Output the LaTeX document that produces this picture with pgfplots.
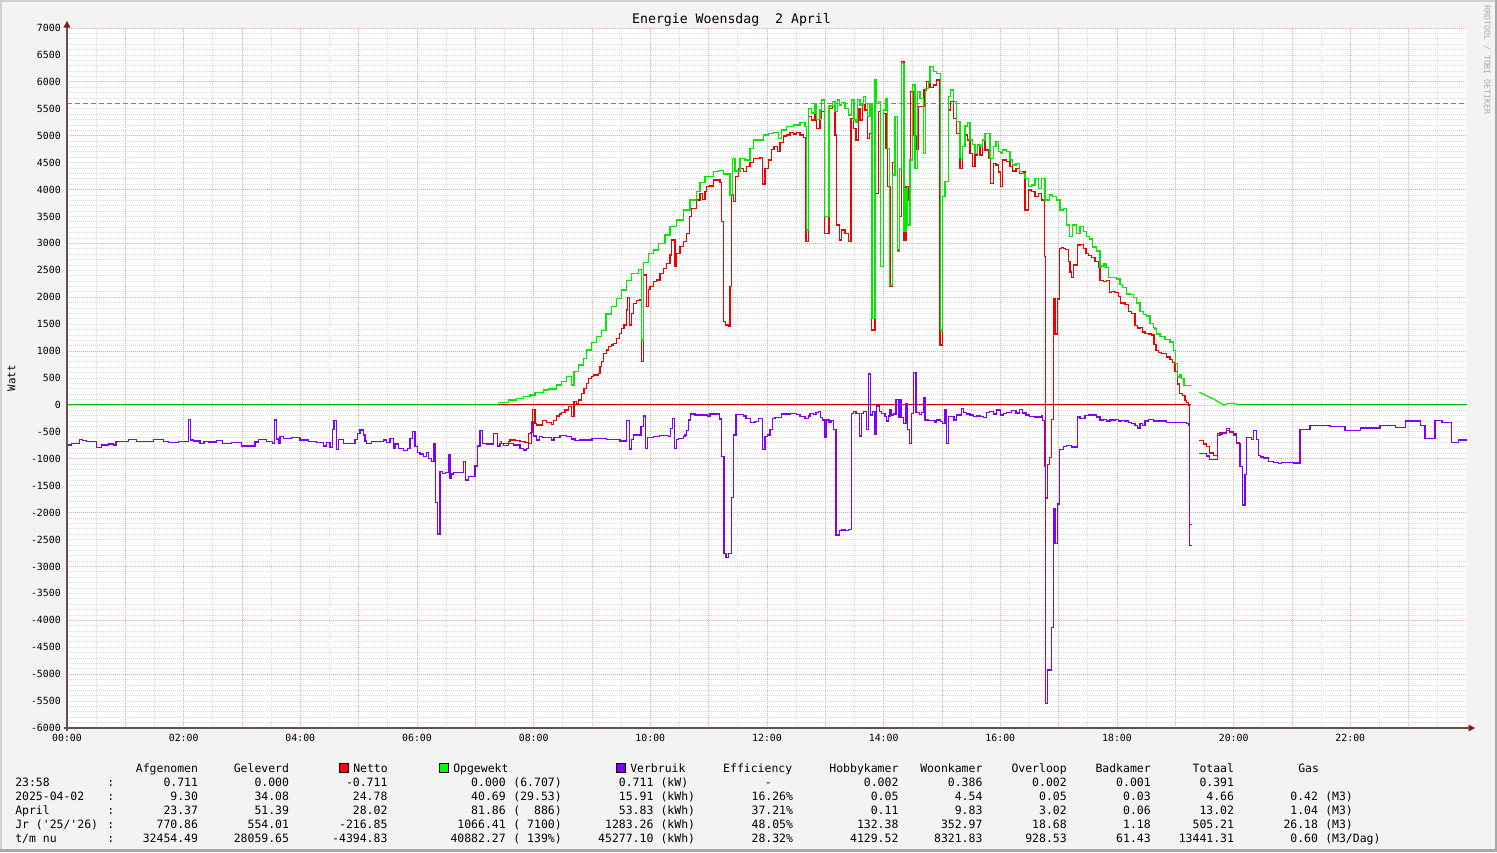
\documentclass[border=0pt]{standalone}
\usepackage{fontspec}
\setmainfont{DejaVu Sans Mono}
\usepackage{pgfplots}
\pgfplotsset{compat=1.18}
\usetikzlibrary{arrows.meta}

\definecolor{canvas}{RGB}{243,243,243}
\definecolor{bordlight}{RGB}{208,208,208}
\definecolor{borddark}{RGB}{168,168,168}
\definecolor{gridminor}{RGB}{218,218,218}
\definecolor{gridmajor}{RGB}{242,165,165}
\definecolor{axiscol}{RGB}{100,80,80}
\definecolor{arrowcol}{RGB}{140,20,20}
\definecolor{rrdred}{RGB}{240,0,0}
\definecolor{rrdgreen}{RGB}{0,235,0}
\definecolor{rrdpurple}{RGB}{128,0,255}
\definecolor{wmcol}{RGB}{170,170,170}

\newcommand\fs[1]{\fontsize{#1bp}{#1bp}\selectfont}

% one legend row, left half
\newcommand\rowA[7]{%
  \node[l] at (15,#1) {#2};
  \node[lg, anchor=base] at (110.7,#1) {:};
  \node[r] at (198.3,#1) {#3};
  \node[r] at (289.3,#1) {#4};
  \node[r] at (387.7,#1) {#5};
  \node[r] at (506,#1) {#6};
  \node[r] at (562,#1) {#7};}
% right half
\newcommand\rowB[9]{%
  \node[r] at (653.7,#1) {#2};
  \node[l] at (660.3,#1) {#3};
  \node[r] at (793.3,#1) {#4};
  \node[r] at (898.7,#1) {#5};
  \node[r] at (982.7,#1) {#6};
  \node[r] at (1067,#1) {#7};
  \node[r] at (1151,#1) {#8};
  \node[r] at (1234.3,#1) {#9};}
\newcommand\rowC[3]{%
  \node[r] at (1318.3,#1) {#2};
  \node[l] at (1325,#1) {#3};}

\begin{document}
\begin{tikzpicture}[x=0.75bp,y=-0.75bp,
  lg/.style={font=\fs{8.6}, inner sep=0pt},
  r/.style={lg, anchor=base east},
  l/.style={lg, anchor=base west}]
\path[use as bounding box] (0,0) rectangle (1497,852);
\fill[canvas] (0,0) rectangle (1497,852);
\fill[bordlight] (0,0) rectangle (1497,2);
\fill[bordlight] (0,0) rectangle (2,852);
\fill[borddark] (0,849) rectangle (1497,852);
\fill[borddark] (1495,0) rectangle (1497,852);

\begin{axis}[
  at={(50.25bp,-546bp)}, anchor=south west,
  scale only axis, width=1050bp, height=525bp,
  xmin=0, xmax=24, ymin=-6000, ymax=7000,
  axis background/.style={fill=white},
  axis line style={draw=none},
  tick style={draw=none},
  xtick={0,2,...,22},
  xticklabels={00:00,02:00,04:00,06:00,08:00,10:00,12:00,14:00,16:00,18:00,20:00,22:00},
  ytick={-6000,-5500,...,7000},
  yticklabels={-6000,-5500,-5000,-4500,-4000,-3500,-3000,-2500,-2000,-1500,-1000,-500,0,500,1000,1500,2000,2500,3000,3500,4000,4500,5000,5500,6000,6500,7000},
  xticklabel style={font=\fs{7.4}, anchor=center, inner sep=0pt, yshift=-7.5bp},
  yticklabel style={font=\fs{7.4}, anchor=east, inner sep=0pt, xshift=-4.5bp},
]
% grid
\pgfplotsinvokeforeach{-6000,-5900,...,7000}{
  \draw[gridminor, line width=0.6bp, dash pattern=on 0.75bp off 0.75bp] (axis cs:0,#1) -- (axis cs:24,#1);}
\pgfplotsinvokeforeach{0.5,1,...,23.5}{
  \draw[gridminor, line width=0.6bp, dash pattern=on 0.75bp off 0.75bp] (axis cs:#1,-6000) -- (axis cs:#1,7000);}
\pgfplotsinvokeforeach{-5000,-4000,...,7000}{
  \draw[gridmajor, line width=0.6bp, dash pattern=on 0.75bp off 0.75bp] (axis cs:0,#1) -- (axis cs:24,#1);}
\pgfplotsinvokeforeach{1,2,...,23}{
  \draw[gridmajor, line width=0.6bp, dash pattern=on 0.75bp off 0.75bp] (axis cs:#1,-6000) -- (axis cs:#1,7000);}
\draw[black!50, line width=0.75bp, dash pattern=on 3.5bp off 2.5bp] (axis cs:0,5600) -- (axis cs:24,5600);

% zero lines (no generation / Netto base)
\addplot[rrdgreen!80!black, line width=0.7bp] coordinates {(0,0) (7.395,0)};
\addplot[rrdgreen!80!black, line width=0.7bp] coordinates {(20.11,0) (24,0)};
\addplot[rrdred!85!black, line width=0.75bp] coordinates {(7.395,0) (19.264,0)};

% Netto
\addplot[rrdred, line width=0.95bp, const plot] coordinates {
(7.423,-681) (7.452,-712) (7.566,-681) (7.595,-650) (7.681,-662) (7.766,-681) (7.852,-700)
(7.909,-526) (7.949,-514) (7.983,-80) (8.023,-341) (8.052,-372) (8.155,-291) (8.223,-328)
(8.309,-359) (8.338,-291) (8.395,-204) (8.441,-167) (8.481,-142) (8.538,-93) (8.595,-31)
(8.652,-217) (8.692,62) (8.738,19) (8.766,93) (8.823,217) (8.863,300) (8.909,402) (8.938,495)
(8.995,526) (9.023,557) (9.109,588) (9.138,712) (9.166,805) (9.195,960) (9.252,1021)
(9.281,1083) (9.338,1114) (9.366,1145) (9.423,1238) (9.469,1331) (9.509,1424) (9.549,1486)
(9.595,1764) (9.606,2000) (9.64,1486) (9.681,1702) (9.709,1888) (9.766,1938) (9.823,1962)
(9.852,805) (9.88,2414) (9.938,1826) (9.966,2148) (9.995,2198) (10.052,2290) (10.109,2321)
(10.166,2445) (10.223,2538) (10.281,2631) (10.338,2786) (10.366,3064) (10.423,2569)
(10.452,2817) (10.509,2940) (10.566,3033) (10.623,3188) (10.669,3498) (10.709,3652)
(10.795,3807) (10.852,3931) (10.897,3819) (10.938,3962) (10.966,4055) (11.023,4067)
(11.08,4179) (11.195,4129) (11.223,3405) (11.252,1548) (11.292,1486) (11.338,1455)
(11.366,2198) (11.395,3900) (11.423,3776) (11.463,4240) (11.509,4395) (11.595,4333)
(11.652,4426) (11.709,4500) (11.766,4581) (11.881,4600) (11.926,4104) (11.966,4395)
(12.023,4550) (12.081,4748) (12.12,4797) (12.178,4705) (12.223,4872) (12.281,4996)
(12.338,5014) (12.395,5058) (12.452,5033) (12.509,5058) (12.566,5014) (12.623,4971)
(12.669,3033) (12.709,5355) (12.766,5293) (12.823,5448) (12.852,5138) (12.909,5324)
(12.938,5448) (12.983,3188) (13.063,5509) (13.126,5540) (13.166,5014) (13.195,3343)
(13.241,3064) (13.281,3250) (13.338,3188) (13.395,3033) (13.441,5324) (13.481,5138)
(13.526,4921) (13.566,5509) (13.595,5293) (13.641,5571) (13.681,5478) (13.721,4952)
(13.755,5045) (13.795,1393) (13.852,3931) (13.915,5448) (13.949,2569) (13.995,5417)
(14.041,4767) (14.063,4055) (14.109,2198) (14.155,4500) (14.195,5355) (14.235,2879)
(14.269,3500) (14.309,6376) (14.349,3064) (14.383,4055) (14.424,3807) (14.464,5819)
(14.510,5000) (14.555,4750) (14.595,5540) (14.692,5850) (14.738,6000) (14.795,5900)
(14.852,5943) (14.910,6035) (14.967,1114) (15.012,3869) (15.052,4148) (15.110,5478)
(15.150,5633) (15.195,5324) (15.253,5045) (15.310,4395) (15.355,4797) (15.395,5014)
(15.435,4921) (15.481,4674) (15.527,4426) (15.567,4640) (15.607,4829) (15.652,4640)
(15.698,4921) (15.738,4735) (15.795,4580) (15.835,4117) (15.881,4490) (15.927,4457)
(15.967,4324) (16.007,4055) (16.041,4550) (16.110,4520) (16.167,4426) (16.212,4345)
(16.270,4395) (16.327,4300) (16.384,4324) (16.424,3621) (16.481,3993) (16.538,3960)
(16.595,3869) (16.652,3930) (16.710,3807) (16.755,2754) (16.778,-1727) (16.807,-1111)
(16.841,-972) (16.881,-264) (16.910,1969) (16.938,1315) (16.978,1969) (17.012,2908)
(17.052,2920) (17.081,2908) (17.121,2890) (17.167,2661) (17.195,2470) (17.224,2370)
(17.252,2600) (17.321,2970) (17.366,2980) (17.424,2908) (17.469,2815) (17.509,2780)
(17.567,2740) (17.624,2661) (17.681,2546) (17.709,2315) (17.767,2290) (17.824,2315)
(17.869,2084) (17.910,2100) (17.967,2084) (18.024,2007) (18.064,1892) (18.138,1860)
(18.195,1738) (18.253,1700) (18.310,1469) (18.350,1430) (18.395,1440) (18.441,1354)
(18.481,1330) (18.538,1315) (18.595,1300) (18.635,1122) (18.669,1006) (18.710,975)
(18.767,960) (18.853,891) (18.910,840) (18.956,790) (18.996,622) (19.036,390) (19.070,214)
(19.127,180) (19.167,83) (19.196,50) (19.224,0) (19.241,-2227) (19.281,-2227)};
\addplot[rrdred, line width=0.95bp, const plot] coordinates {
(19.412,-664) (19.481,-726) (19.538,-778) (19.584,-895) (19.652,-941) (19.721,-533)
(19.767,-510) (19.812,-533) (19.881,-478) (19.927,-510) (19.995,-560) (20.052,-700) (20.110,-700)};

% Opgewekt
\addplot[rrdgreen, line width=0.95bp, const plot] coordinates {
(7.395,43) (7.566,93) (7.709,124) (7.823,155) (7.938,186) (8.023,235) (8.166,279)
(8.252,297) (8.395,371) (8.481,433) (8.566,526) (8.652,371) (8.692,619) (8.766,743)
(8.852,867) (8.909,1021) (8.995,1158) (9.081,1269) (9.166,1380) (9.24,1690) (9.338,1826)
(9.423,1981) (9.509,2136) (9.595,2309) (9.681,2445) (9.795,2519) (9.852,1207) (9.88,2643)
(9.966,2816) (10.052,2878) (10.137,3002) (10.252,3157) (10.338,3312) (10.452,3436)
(10.566,3621) (10.681,3807) (10.795,3962) (10.852,4129) (10.938,4240) (11.08,4333)
(11.166,4358) (11.252,4290) (11.366,3900) (11.406,4581) (11.452,4345) (11.538,4581)
(11.623,4550) (11.709,4767) (11.766,4921) (11.938,5014) (12.023,5045) (12.109,5058)
(12.195,4952) (12.252,5107) (12.338,5169) (12.452,5200) (12.566,5240) (12.652,5169)
(12.681,3250) (12.709,5510) (12.766,5420) (12.823,5604) (12.852,5300) (12.909,5478)
(12.938,5664) (12.983,3498) (13.063,5553) (13.126,5633) (13.166,5448) (13.206,5664)
(13.241,5571) (13.281,5615) (13.338,5509) (13.395,5385) (13.452,5664) (13.492,5293)
(13.526,5243) (13.555,5676) (13.595,5571) (13.652,5726) (13.686,5602) (13.726,5355)
(13.766,5602) (13.801,1610) (13.852,6048) (13.881,5602) (13.915,5633) (13.949,2569)
(13.995,5478) (14.041,5695) (14.063,4767) (14.098,2229) (14.155,4271) (14.195,5355)
(14.235,2848) (14.269,4395) (14.309,6345) (14.349,3219) (14.383,4024) (14.406,3343)
(14.452,4550) (14.498,5943) (14.538,4395) (14.578,5819) (14.623,5695) (14.681,4674)
(14.715,5881) (14.766,5986) (14.795,6283) (14.852,6190) (14.909,6159) (14.98,1393)
(15.012,3869) (15.052,4148) (15.109,5726) (15.149,5850) (15.195,5633) (15.252,5268)
(15.309,4581) (15.355,4797) (15.395,5181) (15.435,5243) (15.481,4921) (15.526,4830)
(15.566,4674) (15.606,4829) (15.652,4810) (15.698,4921) (15.738,5045) (15.824,4581)
(15.881,4797) (15.926,4891) (15.966,4700) (16.006,4680) (16.041,4735) (16.109,4705)
(16.166,4550) (16.212,4457) (16.269,4490) (16.326,4333) (16.384,4300) (16.423,4210)
(16.481,4055) (16.538,4085) (16.595,4210) (16.652,4024) (16.709,4210) (16.766,3807)
(16.841,3900) (16.898,3869) (16.966,3807) (17.023,3621) (17.081,3652) (17.138,3343)
(17.184,3126) (17.241,3343) (17.309,3188) (17.366,3317) (17.424,3216) (17.481,3124)
(17.527,3080) (17.584,2931) (17.652,2860) (17.709,2546) (17.738,2580) (17.778,2620)
(17.812,2546) (17.852,2370) (17.995,2340) (18.052,2238) (18.098,2180) (18.166,2061)
(18.224,2050) (18.281,1990) (18.338,1892) (18.395,1738) (18.452,1680) (18.509,1650)
(18.567,1506) (18.624,1440) (18.652,1410) (18.681,1315) (18.738,1270) (18.824,1215)
(18.909,1170) (18.967,1006) (19.007,776) (19.041,521) (19.081,570) (19.110,490)
(19.149,367) (19.196,357) (19.264,357)};
\addplot[rrdgreen, line width=0.95bp] coordinates {
(19.412,236) (19.538,168) (19.652,112) (19.767,40) (19.812,5) (19.85,0) (19.9,25)
(19.98,30) (20.05,15) (20.11,0)};

% Verbruik
\addplot[rrdpurple, line width=0.95bp, const plot] coordinates {
(0,-743) (0.08,-718) (0.137,-712) (0.211,-638) (0.269,-662) (0.337,-681) (0.509,-786)
(0.594,-743) (0.709,-724) (0.794,-743) (0.84,-675) (1.051,-638) (1.194,-675) (1.48,-638)
(1.651,-675) (1.737,-700) (1.909,-675) (2.08,-266) (2.12,-650) (2.166,-669) (2.28,-712)
(2.349,-675) (2.423,-687) (2.566,-662) (2.669,-712) (2.823,-693) (2.995,-761) (3.223,-687)
(3.28,-638) (3.423,-675) (3.52,-712) (3.554,-279) (3.595,-632) (3.623,-712) (3.652,-588)
(3.709,-620) (3.85,-600) (3.995,-650) (4.137,-681) (4.28,-700) (4.395,-761) (4.452,-700)
(4.509,-786) (4.555,-452) (4.577,-291) (4.623,-823) (4.658,-638) (4.737,-712) (4.937,-638)
(4.983,-526) (5.023,-464) (5.08,-557) (5.109,-669) (5.138,-712) (5.223,-675) (5.423,-650)
(5.48,-700) (5.537,-625) (5.594,-805) (5.623,-724) (5.68,-805) (5.766,-848) (5.835,-805)
(5.88,-619) (5.926,-495) (5.966,-774) (6.006,-885) (6.052,-910) (6.109,-960) (6.166,-879)
(6.195,-990) (6.252,-1052) (6.292,-712) (6.315,-1814) (6.349,-2396) (6.395,-1238)
(6.435,-1269) (6.492,-1257) (6.538,-916) (6.566,-1362) (6.595,-1281) (6.623,-1257)
(6.795,-1052) (6.835,-1393) (6.88,-1331) (6.995,-1133) (7.035,-761) (7.081,-477)
(7.126,-712) (7.195,-724) (7.309,-526) (7.378,-761) (7.423,-712) (7.48,-755) (7.566,-712)
(7.652,-743) (7.766,-805) (7.823,-836) (7.88,-805) (7.909,-712) (7.966,-310) (7.995,-576)
(8.052,-650) (8.098,-588) (8.155,-600) (8.309,-650) (8.349,-600) (8.452,-564) (8.566,-588)
(8.652,-632) (8.709,-662) (8.795,-650) (9.0,-630) (9.252,-640) (9.48,-669) (9.595,-291)
(9.64,-817) (9.681,-638) (9.709,-557) (9.841,-402) (9.88,-204) (9.915,-805) (9.949,-600)
(10.052,-588) (10.155,-570) (10.309,-588) (10.349,-433) (10.378,-248) (10.412,-805)
(10.452,-638) (10.481,-619) (10.566,-588) (10.595,-557) (10.623,-477) (10.652,-279)
(10.692,-167) (10.766,-186) (10.978,-204) (11.023,-167) (11.183,-260) (11.223,-960)
(11.263,-2755) (11.298,-2836) (11.338,-2755) (11.395,-1715) (11.423,-557) (11.469,-173)
(11.595,-204) (11.641,-248) (11.721,-328) (11.795,-310) (11.852,-248) (11.926,-823)
(11.966,-588) (12.006,-557) (12.052,-452) (12.092,-248) (12.138,-235) (12.252,-167)
(12.395,-155) (12.509,-180) (12.566,-217) (12.652,-248) (12.709,-204) (12.738,-155)
(12.795,-173) (12.841,-142) (12.881,-124) (12.921,-229) (12.955,-279) (12.995,-600)
(13.023,-279) (13.063,-328) (13.098,-291) (13.138,-452) (13.183,-2414) (13.241,-2334)
(13.281,-2321) (13.338,-2334) (13.395,-2309) (13.452,-155) (13.481,-124) (13.526,-155)
(13.583,-576) (13.624,-155) (13.652,-124) (13.709,-452) (13.738,576) (13.778,-186)
(13.812,-124) (13.852,-539) (13.881,-19) (13.926,-124) (13.966,-155) (14.023,-217)
(14.052,-297) (14.081,-204) (14.109,-93) (14.138,-186) (14.166,-167) (14.212,105)
(14.252,-229) (14.281,105) (14.309,-229) (14.338,-341) (14.384,31) (14.406,-452)
(14.441,-712) (14.481,-155) (14.509,601) (14.555,-142) (14.612,-173) (14.652,-142)
(14.681,142) (14.709,-279) (14.767,-291) (14.881,-322) (14.909,-279) (14.978,-310)
(15.012,-341) (15.052,-81) (15.081,-712) (15.109,-217) (15.207,-279) (15.252,-186)
(15.338,-62) (15.367,-142) (15.424,-167) (15.481,-186) (15.538,-217) (15.595,-204)
(15.652,-217) (15.709,-229) (15.767,-142) (15.812,-124) (15.881,-167) (15.938,-93)
(16.0,-185) (16.052,-165) (16.109,-135) (16.195,-110) (16.27,-150) (16.324,-90)
(16.38,-150) (16.438,-185) (16.495,-210) (16.595,-225) (16.70,-190) (16.727,-285)
(16.755,-1149) (16.778,-5538) (16.807,-4921) (16.881,-4128) (16.910,-1918) (16.938,-2574)
(16.978,-1841) (17.012,-826) (17.081,-766) (17.138,-750) (17.224,-780) (17.321,-225)
(17.366,-248) (17.452,-202) (17.509,-187) (17.652,-225) (17.709,-282) (17.767,-264)
(17.824,-300) (17.881,-282) (17.967,-264) (18.024,-300) (18.081,-290) (18.138,-300)
(18.195,-325) (18.253,-340) (18.310,-379) (18.350,-430) (18.395,-340) (18.441,-379)
(18.481,-300) (18.538,-264) (18.624,-300) (18.767,-300) (18.853,-325) (19.196,-340)
(19.224,-379) (19.241,-2611) (19.281,-2611)};
\addplot[rrdpurple, line width=0.95bp, const plot] coordinates {
(19.412,-903) (19.538,-950) (19.584,-1018) (19.721,-571) (19.767,-540) (19.812,-520)
(19.881,-441) (19.927,-490) (19.995,-540) (20.052,-717) (20.110,-1149) (20.155,-1859)
(20.195,-1294) (20.224,-602) (20.310,-640) (20.338,-471) (20.395,-640) (20.424,-941)
(20.464,-965) (20.510,-985) (20.595,-1049) (20.681,-1070) (20.767,-1092) (20.824,-1075)
(20.910,-1070) (21.024,-1080) (21.138,-450) (21.31,-380) (21.65,-400) (21.91,-480)
(22.17,-430) (22.51,-380) (22.77,-420) (22.94,-300) (23.2,-380) (23.28,-620) (23.45,-290)
(23.57,-330) (23.74,-700) (23.85,-650) (24.0,-650)};
\end{axis}

% axes with arrows
\draw[axiscol, line width=0.9bp] (67,731) -- (67,26);
\fill[arrowcol] (63.5,27.5) -- (70.5,27.5) -- (67,21) -- cycle;
\draw[axiscol, line width=0.9bp] (64,728) -- (1469,728);
\fill[arrowcol] (1468.5,724.5) -- (1468.5,731.5) -- (1475,728) -- cycle;

% title, axis label, watermark
\node[font=\fs{9.9}, inner sep=0pt, anchor=base] at (731.5,23.8) {Energie Woensdag\hphantom{0}\hphantom{0}2 April};
\node[font=\fs{8.1}, inner sep=0pt, rotate=90] at (11.5,378) {Watt};
\node[font=\fs{6.2}, text=wmcol, inner sep=0pt, rotate=-90] at (1487,60) {RRDTOOL / TOBI OETIKER};

% legend header
\node[r] at (198.3,772.3) {Afgenomen};
\node[r] at (289.3,772.3) {Geleverd};
\filldraw[fill=red, draw=black, line width=0.75bp] (339.5,763.5) rectangle (348.5,772.5);
\node[l] at (353,772.3) {Netto};
\filldraw[fill=green, draw=black, line width=0.75bp] (439.5,763.5) rectangle (448.5,772.5);
\node[l] at (453,772.3) {Opgewekt};
\filldraw[fill=rrdpurple, draw=black, line width=0.75bp] (616.5,763.5) rectangle (625.5,772.5);
\node[l] at (630,772.3) {Verbruik};
\node[r] at (792.5,772.3) {Efficiency};
\node[r] at (898.7,772.3) {Hobbykamer};
\node[r] at (982.7,772.3) {Woonkamer};
\node[r] at (1067,772.3) {Overloop};
\node[r] at (1151,772.3) {Badkamer};
\node[r] at (1234.3,772.3) {Totaal};
\node[r] at (1319.3,772.3) {Gas};

% legend rows
\rowA{786.5}{23:58}{0.711}{0.000}{-0.711}{0.000}{(6.707)}
\rowB{786.5}{0.711}{(kW)}{}{0.002}{0.386}{0.002}{0.001}{0.391}
\node[lg, anchor=base] at (768.3,786.5) {-};
\rowA{800.5}{2025-04-02}{9.30}{34.08}{24.78}{40.69}{(29.53)}
\rowB{800.5}{15.91}{(kWh)}{16.26\%}{0.05}{4.54}{0.05}{0.03}{4.66}
\rowC{800.5}{0.42}{(M3)}
\rowA{814.5}{April}{23.37}{51.39}{28.02}{81.86}{(\hphantom{00}886)}
\rowB{814.5}{53.83}{(kWh)}{37.21\%}{0.11}{9.83}{3.02}{0.06}{13.02}
\rowC{814.5}{1.04}{(M3)}
\rowA{828.5}{Jr (\textquotesingle25/\textquotesingle26)}{770.86}{554.01}{-216.85}{1066.41}{(\hphantom{0}7100)}
\rowB{828.5}{1283.26}{(kWh)}{48.05\%}{132.38}{352.97}{18.68}{1.18}{505.21}
\rowC{828.5}{26.18}{(M3)}
\rowA{842.4}{t/m nu}{32454.49}{28059.65}{-4394.83}{40882.27}{(\hphantom{0}139\%)}
\rowB{842.4}{45277.10}{(kWh)}{28.32\%}{4129.52}{8321.83}{928.53}{61.43}{13441.31}
\rowC{842.4}{0.60}{(M3/Dag)}
\end{tikzpicture}
\end{document}
